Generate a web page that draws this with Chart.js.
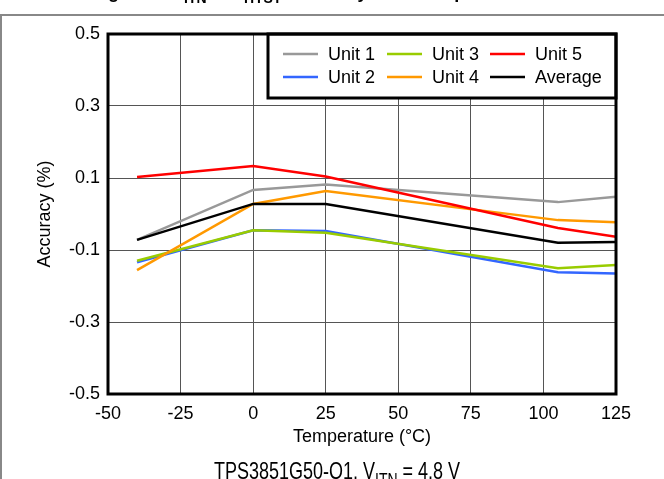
<!DOCTYPE html>
<html>
<head>
<meta charset="utf-8">
<script src="https://cdn.jsdelivr.net/npm/chart.js@4.4.1/dist/chart.umd.min.js"></script>
<style>
  body { margin: 0; background: #fff; }
  canvas { display: block; }
</style>
</head>
<body>
<canvas id="accChart" width="664" height="479"></canvas>
<script>
// temperatures (°C) where the units were measured
const temps = [-40, 0, 25, 105, 125];

// accuracy (%) per unit
const unit1 = [-0.072, 0.067, 0.082, 0.033, 0.048];
const unit2 = [-0.134, -0.045, -0.047, -0.162, -0.165];
const unit3 = [-0.130, -0.045, -0.052, -0.151, -0.142];
const unit4 = [-0.156, 0.028, 0.064, -0.017, -0.023];
const unit5 = [0.103, 0.133, 0.104, -0.039, -0.063];
const average = [-0.072, 0.028, 0.028, -0.080, -0.078];

const xTicks = [-50, -25, 0, 25, 50, 75, 100, 125];
const yTicks = [-0.5, -0.3, -0.1, 0.1, 0.3, 0.5];

const FONT = "'Liberation Sans', Arial, sans-serif";
Chart.defaults.font.family = FONT;
Chart.defaults.font.size = 18;
Chart.defaults.color = '#000';

function series(label, values, color, order) {
  return {
    label: label,
    data: temps.map((t, i) => ({ x: t, y: values[i] })),
    borderColor: color,
    backgroundColor: color,
    borderWidth: 2.5,
    pointRadius: 0,
    tension: 0,
    order: order
  };
}

// draws text with subscript parts, left aligned
function drawRich(ctx, parts, x, baseline, size, bold) {
  const w = bold ? 'bold ' : '';
  let cx = x;
  parts.forEach(p => {
    const s = p.sub ? Math.round(size * 0.75) : size;
    ctx.font = w + s + 'px ' + FONT;
    ctx.fillText(p.t, cx, baseline + (p.sub ? size * 0.28 : 0));
    cx += ctx.measureText(p.t).width;
  });
  return cx - x;
}

function richWidth(ctx, parts, size, bold) {
  const w = bold ? 'bold ' : '';
  let total = 0;
  parts.forEach(p => {
    const s = p.sub ? Math.round(size * 0.75) : size;
    ctx.font = w + s + 'px ' + FONT;
    total += ctx.measureText(p.t).width;
  });
  return total;
}

const framePlugin = {
  id: 'frame',
  beforeDraw(chart) {
    const ctx = chart.ctx;
    ctx.save();
    ctx.fillStyle = '#fff';
    ctx.fillRect(0, 0, chart.width, chart.height);
    // cut-off figure caption at top
    ctx.fillStyle = '#000';
    ctx.textAlign = 'left';
    ctx.textBaseline = 'alphabetic';
    drawRich(ctx, [
      { t: 'Figure 3. V' }, { t: 'ITN', sub: true },
      { t: '  + V' }, { t: 'HYST', sub: true },
      { t: ' Accuracy Over Temperature' }
    ], 92, -2, 18, true);
    // page frame lines
    ctx.strokeStyle = '#888';
    ctx.lineWidth = 2;
    ctx.beginPath();
    ctx.moveTo(0, 15);
    ctx.lineTo(chart.width, 15);
    ctx.moveTo(1, 15);
    ctx.lineTo(1, chart.height);
    ctx.stroke();
    ctx.restore();
  },
  afterDraw(chart) {
    const ctx = chart.ctx;
    const a = chart.chartArea;
    ctx.save();

    // legend box inside plot, top right
    const bw = 348, bh = 64;
    const bx = a.right - bw, by = a.top;
    ctx.fillStyle = '#fff';
    ctx.fillRect(bx, by, bw, bh);
    ctx.strokeStyle = '#000';
    ctx.lineWidth = 3;
    ctx.strokeRect(bx, by, bw, bh);

    const ds = chart.data.datasets;
    const colX = [bx + 15, bx + 119, bx + 222];
    const rowY = [by + 20, by + 43];
    ctx.font = '18px ' + FONT;
    ctx.textBaseline = 'middle';
    ctx.textAlign = 'left';
    ds.forEach((d, i) => {
      const col = Math.floor(i / 2), row = i % 2;
      const x = colX[col], y = rowY[row];
      ctx.strokeStyle = d.borderColor;
      ctx.lineWidth = 2.5;
      ctx.beginPath();
      ctx.moveTo(x, y);
      ctx.lineTo(x + 35, y);
      ctx.stroke();
      ctx.fillStyle = '#000';
      ctx.fillText(d.label, x + 45, y + 1);
    });

    // thick plot border
    ctx.strokeStyle = '#000';
    ctx.lineWidth = 3;
    ctx.strokeRect(a.left, a.top, a.right - a.left, a.bottom - a.top);

    // condition caption (slightly tall, as in the source figure)
    const parts = [{ t: 'TPS3851G50-Q1, V' }, { t: 'ITN', sub: true }, { t: ' = 4.8 V' }];
    const tw = richWidth(ctx, parts, 18, false);
    ctx.fillStyle = '#000';
    ctx.textBaseline = 'alphabetic';
    ctx.translate(337 - tw / 2, 479);
    ctx.scale(1, 1.3);
    drawRich(ctx, parts, 0, 0, 18, false);
    ctx.restore();
  }
};

const ctx = document.getElementById('accChart').getContext('2d');
const accChart = new Chart(ctx, {
  type: 'line',
  data: {
    datasets: [
      series('Unit 1', unit1, '#999999', 5),
      series('Unit 2', unit2, '#3366ff', 4),
      series('Unit 3', unit3, '#99cc00', 3),
      series('Unit 4', unit4, '#ff9900', 2),
      series('Unit 5', unit5, '#ff0000', 1),
      series('Average', average, '#000000', 0)
    ]
  },
  options: {
    responsive: false,
    animation: false,
    layout: { padding: { top: 34, right: 48, bottom: 0, left: 0 } },
    plugins: {
      legend: { display: false },
      tooltip: { enabled: false }
    },
    scales: {
      x: {
        type: 'linear',
        min: -50,
        max: 125,
        afterFit: s => { s.height = 85; },
        afterBuildTicks: s => { s.ticks = xTicks.map(v => ({ value: v })); },
        ticks: { padding: 9, callback: v => String(v), maxRotation: 0 },
        grid: { color: '#555', lineWidth: 1, drawTicks: false },
        border: { display: false },
        title: {
          display: true,
          text: 'Temperature (°C)',
          font: { size: 18 },
          padding: { top: 0, bottom: 31 }
        }
      },
      y: {
        min: -0.5,
        max: 0.5,
        afterFit: s => { s.width = 108; },
        afterBuildTicks: s => { s.ticks = yTicks.map(v => ({ value: v })); },
        ticks: { padding: 8, callback: v => v.toFixed(1) },
        grid: { color: '#555', lineWidth: 1, drawTicks: false },
        border: { display: false },
        title: {
          display: true,
          text: 'Accuracy (%)',
          font: { size: 18 },
          padding: { top: 34, bottom: 0 }
        }
      }
    }
  },
  plugins: [framePlugin]
});
</script>
</body>
</html>
